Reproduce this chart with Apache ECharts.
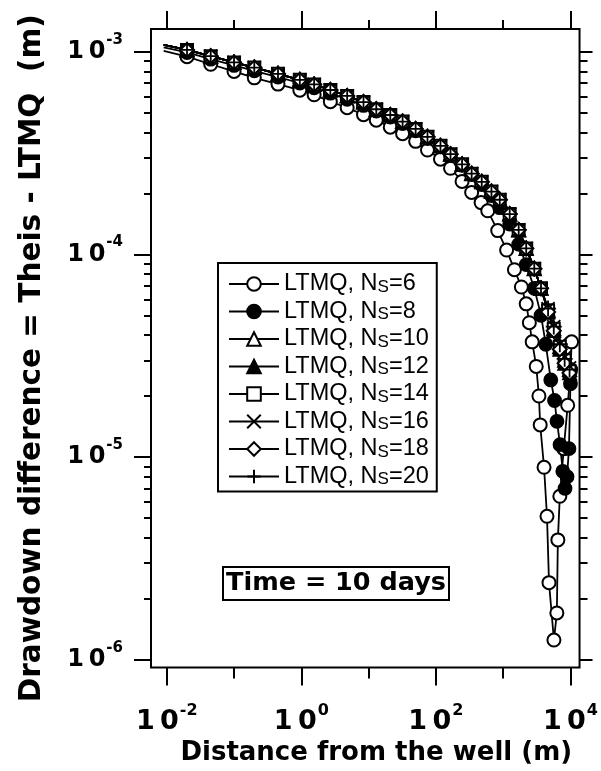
<!DOCTYPE html>
<html>
<head>
<meta charset="utf-8">
<script src="https://cdn.jsdelivr.net/npm/echarts@6/dist/echarts.min.js"></script>
<style>
  html, body { margin: 0; padding: 0; background: #fff; }
  #chart { width: 601px; height: 771px; }
</style>
</head>
<body>
<div id="chart"></div>
<script>
// distance from the well (m) used by the Ns >= 8 curves
const distance = [0.009, 0.02, 0.045, 0.1, 0.2, 0.45, 0.95, 1.55, 2.7, 4.8, 8.4, 13, 21, 32, 50,
  75, 117, 165, 245, 340, 480, 670, 890, 1250, 1700, 2200, 2900, 3650]

// drawdown difference (m), Ns = 10..20 lie on top of each other up to ~3.6 km
const upperCurve = [1.08e-3, 1.02e-3, 9.5e-4, 8.85e-4, 8.35e-4, 7.78e-4, 7.26e-4, 6.89e-4, 6.47e-4,
  6.05e-4, 5.64e-4, 5.2e-4, 4.87e-4, 4.52e-4, 4.16e-4, 3.8e-4, 3.43e-4, 3.12e-4, 2.78e-4, 2.5e-4,
  2.28e-4, 2.04e-4, 1.86e-4, 1.58e-4, 1.32e-4, 1.07e-4, 8.5e-5, 6.8e-5]
const ns8Curve = [1.05e-3, 9.91e-4, 9.18e-4, 8.55e-4, 8.05e-4, 7.5e-4, 7.0e-4, 6.64e-4, 6.24e-4,
  5.82e-4, 5.43e-4, 5.09e-4, 4.76e-4, 4.42e-4, 4.07e-4, 3.73e-4, 3.39e-4, 3.09e-4, 2.75e-4, 2.48e-4,
  2.21e-4, 1.95e-4, 1.7e-4, 1.41e-4, 1.12e-4, 8.9e-5, 6.8e-5, 5.0e-5]

// tails near the end of the domain
const tailDistance = [4650, 5650, 6950, 8200, 9700]
const ns10Tail = [5.3e-5, 4.3e-5, 3.5e-5, 3.0e-5, 2.7e-5]
const ns12Tail = [5.2e-5, 4.2e-5, 3.4e-5, 2.9e-5, 2.6e-5]
const ns14Tail = [5.3e-5, 4.3e-5, 3.5e-5, 3.0e-5, 2.65e-5]
const ns16Tail = [5.4e-5, 4.4e-5, 3.6e-5, 3.1e-5, 2.75e-5]
const ns18Tail = [5.2e-5, 4.2e-5, 3.4e-5, 2.9e-5, 2.6e-5]
const ns20Tail = [5.4e-5, 4.4e-5, 3.6e-5, 3.05e-5, 2.7e-5]
const ns8TailDistance = [4300, 5100, 5800, 6300, 7000, 7700, 8300, 8900, 9500, 10000]
const ns8Tail = [3.6e-5, 2.4e-5, 1.9e-5, 1.5e-5, 1.15e-5, 8.5e-6, 7.0e-6, 8.0e-6, 1.1e-5, 2.3e-5]

// Ns = 6 has its own sampling in the dip
const ns6Distance = [0.009, 0.02, 0.045, 0.1, 0.2, 0.45, 0.95, 1.55, 2.7, 4.8, 8.4, 13, 21, 32, 50,
  75, 117, 165, 245, 340, 470, 590, 830, 1125, 1470, 1865, 2200, 2450, 2700, 3100, 3400, 3550,
  4050, 4480, 4800, 5680, 6280, 6500, 6950, 7950, 9100, 10070, 10400]
const ns6Curve = [1.01e-3, 9.45e-4, 8.67e-4, 7.99e-4, 7.43e-4, 6.92e-4, 6.46e-4, 6.13e-4, 5.67e-4,
  5.29e-4, 4.89e-4, 4.59e-4, 4.24e-4, 3.94e-4, 3.61e-4, 3.27e-4, 2.95e-4, 2.66e-4, 2.29e-4, 2.02e-4,
  1.8e-4, 1.64e-4, 1.31e-4, 1.05e-4, 8.4e-5, 6.9e-5, 5.7e-5, 4.6e-5, 3.7e-5, 2.8e-5, 2.0e-5,
  1.44e-5, 8.9e-6, 5.1e-6, 2.4e-6, 1.25e-6, 1.7e-6, 3.9e-6, 6.4e-6, 1.1e-5, 1.8e-5, 2.7e-5, 3.7e-5]

const xMajor = [0.01, 1, 100, 10000]
const xMinor = [0.1, 10, 1000]
const yMajor = [1e-6, 1e-5, 1e-4, 1e-3]
const yMinor = []
for (let e = -6; e < -2; e++) for (let m = 2; m <= 9; m++) yMinor.push(m * Math.pow(10, e))

const X_MIN = 0.00583, X_MAX = 13650
const Y_MIN = 9.14e-7, Y_MAX = 1.294e-3

const CROSS = 'path://M0,0L10,10M10,0L0,10'
const PLUS = 'path://M5,0L5,10M0,5L10,5'

const pairs = (xs, ys) => ys.map((y, i) => {
  const p = { value: [xs[i], y] }
  if (xs[i] < 0.01) p.symbol = 'none'   // curve starts a bit left of the first marker
  return p
})

const defs = [
  { ns: 6, symbol: 'emptyCircle', size: 13, data: pairs(ns6Distance, ns6Curve) },
  { ns: 8, symbol: 'circle', size: 13, data: pairs(distance, ns8Curve).concat(pairs(ns8TailDistance, ns8Tail)) },
  { ns: 10, symbol: 'emptyTriangle', size: 13, data: pairs(distance.concat(tailDistance), upperCurve.concat(ns10Tail)) },
  { ns: 12, symbol: 'triangle', size: 13, data: pairs(distance.concat(tailDistance), upperCurve.concat(ns12Tail)) },
  { ns: 14, symbol: 'emptyRect', size: 12, data: pairs(distance.concat(tailDistance), upperCurve.concat(ns14Tail)) },
  { ns: 16, symbol: CROSS, size: 13, data: pairs(distance.concat(tailDistance), upperCurve.concat(ns16Tail)) },
  { ns: 18, symbol: 'emptyDiamond', size: 14, data: pairs(distance.concat(tailDistance), upperCurve.concat(ns18Tail)) },
  { ns: 20, symbol: PLUS, size: 16, data: pairs(distance.concat(tailDistance), upperCurve.concat(ns20Tail)) }
]

const BOLD = 'DejaVu Sans'
const supLabel = (v) => '{b|1\u20090}{s|' + Math.round(Math.log10(v)) + '}'

const logAxis = (pos, min, max, extra) => Object.assign({
  type: 'log', logBase: 10, position: pos, min: min, max: max,
  axisLine: { show: false },
  splitLine: { show: false },
  minorTick: { show: false },
  axisLabel: { show: false },
  axisTick: { show: true, inside: false, lineStyle: { color: '#000', width: 2 } }
}, extra)

const tickOnly = (values, len) => ({
  show: true, inside: false, length: len, customValues: values,
  lineStyle: { color: '#000', width: 2 }
})

const option = {
  backgroundColor: '#fff',
  animation: false,
  grid: { left: 151, top: 29, right: 15, bottom: 95, show: true, borderColor: '#000', borderWidth: 2 },
  title: {
    text: 'Time = 10 days',
    left: 223, top: 567,
    padding: [2, 3, 2, 3],
    borderColor: '#000', borderWidth: 2,
    textStyle: { fontFamily: BOLD, fontWeight: 'bold', fontSize: 25.5, color: '#000', lineHeight: 29 }
  },
  legend: {
    orient: 'vertical',
    left: 218, top: 263,
    padding: [9, 8, 3, 10],
    itemWidth: 50, itemHeight: 17, itemGap: 3.5,
    borderColor: '#000', borderWidth: 2,
    backgroundColor: '#fff',
    formatter: (name) => '{t|LTMQ, N}{s|S}{t|=' + name.split('=')[1] + '}',
    textStyle: {
      color: '#000',
      rich: {
        t: { fontFamily: 'Liberation Sans', fontSize: 23.5, lineHeight: 23, color: '#000' },
        s: { fontFamily: 'Liberation Sans', fontSize: 17, lineHeight: 23, padding: [6, 0, 0, 0], color: '#000' }
      }
    },
    data: defs.map(d => 'LTMQ, Ns=' + d.ns)
  },
  xAxis: [
    logAxis('bottom', X_MIN, X_MAX, {
      name: 'Distance from the well (m)',
      nameLocation: 'middle', nameGap: 71,
      nameTextStyle: { fontFamily: BOLD, fontWeight: 'bold', fontSize: 26, color: '#000', padding: [0, 0, 0, 22] },
      axisTick: tickOnly(xMajor, 18),
      axisLabel: {
        show: true, margin: 35, customValues: xMajor, formatter: supLabel,
        rich: {
          b: { fontFamily: BOLD, fontWeight: 'bold', fontSize: 27, color: '#000' },
          s: { fontFamily: BOLD, fontWeight: 'bold', fontSize: 16, color: '#000', padding: [0, 0, 22, 1] }
        }
      }
    }),
    logAxis('bottom', X_MIN, X_MAX, { axisTick: tickOnly(xMinor, 11) }),
    logAxis('top', X_MIN, X_MAX, { axisTick: tickOnly(xMajor, 18) }),
    logAxis('top', X_MIN, X_MAX, { axisTick: tickOnly(xMinor, 9) })
  ],
  yAxis: [
    logAxis('left', Y_MIN, Y_MAX, {
      name: 'Drawdown difference = Theis - LTMQ  (m)',
      nameLocation: 'middle', nameGap: 104, nameRotate: 90,
      nameTextStyle: { fontFamily: BOLD, fontWeight: 'bold', fontSize: 29.5, color: '#000', padding: [0, 20, 0, 0] },
      axisTick: tickOnly(yMajor, 17),
      axisLabel: {
        show: true, margin: 28, customValues: yMajor, formatter: supLabel,
        rich: {
          b: { fontFamily: BOLD, fontWeight: 'bold', fontSize: 24, color: '#000' },
          s: { fontFamily: BOLD, fontWeight: 'bold', fontSize: 15, color: '#000', padding: [0, 0, 24, 1] }
        }
      }
    }),
    logAxis('left', Y_MIN, Y_MAX, { axisTick: tickOnly(yMinor, 7) }),
    logAxis('right', Y_MIN, Y_MAX, { axisTick: tickOnly(yMajor, 13) }),
    logAxis('right', Y_MIN, Y_MAX, { axisTick: tickOnly(yMinor, 8) })
  ],
  series: defs.map(d => ({
    name: 'LTMQ, Ns=' + d.ns,
    type: 'line',
    xAxisIndex: 0, yAxisIndex: 0,
    symbol: d.symbol,
    symbolSize: d.size,
    showAllSymbol: true,
    clip: true,
    lineStyle: { color: '#000', width: 1.8 },
    itemStyle: { color: '#000', borderColor: '#000', borderWidth: 1.8 },
    emphasis: { disabled: true },
    data: d.data
  }))
}

const chart = echarts.init(document.getElementById('chart'), null, { renderer: 'canvas' })
chart.setOption(option)
</script>
</body>
</html>
